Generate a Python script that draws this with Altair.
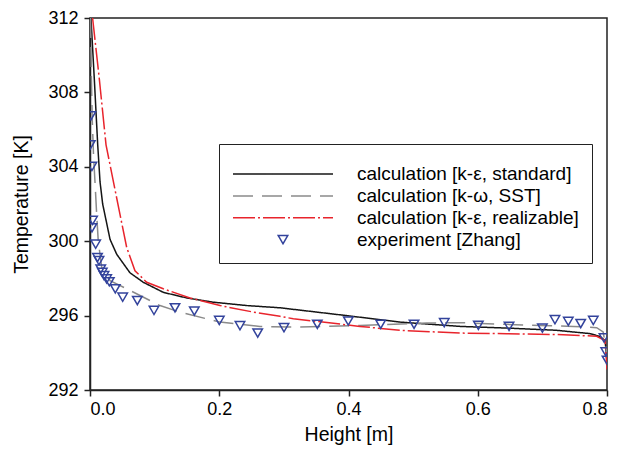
import altair as alt
import pandas as pd

# ---- data ----
series_names = [
    "calculation [k-ε, standard]",
    "calculation [k-ω, SST]",
    "calculation [k-ε, realizable]",
    "experiment [Zhang]",
]

std_x = [0.0015, 0.0067, 0.0119, 0.0155, 0.0196, 0.031, 0.0413, 0.0619, 0.0825, 0.1134,
         0.1496, 0.1908, 0.2425, 0.294, 0.397, 0.48, 0.5725, 0.645, 0.722, 0.774,
         0.789, 0.797, 0.80]
std_y = [312.0, 308.7, 305.2, 303.2, 302.0, 300.1, 299.3, 298.3, 297.79, 297.25,
         296.95, 296.72, 296.54, 296.42, 296.0, 295.65, 295.42, 295.33, 295.21, 295.03,
         294.88, 294.66, 293.6]

sst_x = [0.0008, 0.002, 0.0035, 0.0055, 0.0077, 0.0104, 0.0128, 0.0181, 0.031, 0.0619,
         0.1083, 0.139, 0.201, 0.263, 0.315, 0.418, 0.521, 0.5725, 0.645, 0.696,
         0.748, 0.784, 0.794, 0.80]
sst_y = [312.0, 309.0, 306.5, 304.6, 303.2, 301.4, 300.0, 298.6, 297.88, 297.35,
         296.54, 296.19, 295.65, 295.42, 295.38, 295.47, 295.6, 295.62, 295.53, 295.47,
         295.42, 295.35, 295.12, 294.0]

real_x = [0.004, 0.0144, 0.0248, 0.0402, 0.0464, 0.0568, 0.0696, 0.0877, 0.1134, 0.1547,
          0.2012, 0.2527, 0.294, 0.3146, 0.4178, 0.4797, 0.5725, 0.6448, 0.7222, 0.784,
          0.797, 0.80]
real_y = [312.0, 308.73, 305.18, 302.51, 301.44, 299.66, 298.41, 297.79, 297.44, 296.95,
          296.54, 296.19, 295.96, 295.83, 295.42, 295.21, 295.06, 295.03, 294.98, 294.89,
          294.66, 293.1]

exp_x = [0.0015, 0.0005, 0.003, 0.004, 0.003, 0.0088, 0.0116, 0.0139, 0.0166, 0.019,
         0.0217, 0.0258, 0.0299, 0.0391, 0.0506, 0.0732, 0.099, 0.1315, 0.1614, 0.2001,
         0.2321, 0.2595, 0.3002, 0.3517, 0.3997, 0.4498, 0.5014, 0.5482, 0.6009, 0.6484,
         0.70, 0.7195, 0.7401, 0.7593, 0.7788, 0.7954, 0.798, 0.80]
exp_y = [306.74, 305.18, 304.02, 301.12, 300.72, 299.84, 299.12, 298.95, 298.5, 298.32,
         298.15, 297.97, 297.82, 297.44, 296.99, 296.81, 296.28, 296.42, 296.24, 295.74,
         295.46, 295.06, 295.35, 295.53, 295.71, 295.53, 295.53, 295.62, 295.48, 295.42,
         295.33, 295.78, 295.69, 295.57, 295.74, 294.8, 294.05, 293.6]

x_ticks = [0.0, 0.2, 0.4, 0.6, 0.8]
y_ticks = [292, 296, 300, 304, 308, 312]

# ---- tables ----
rows = []
for name, xs, ys in [(series_names[0], std_x, std_y),
                     (series_names[1], sst_x, sst_y),
                     (series_names[2], real_x, real_y)]:
    for i, (xv, yv) in enumerate(zip(xs, ys)):
        rows.append({"series": name, "x": xv, "y": yv, "i": i})
lines_df = pd.DataFrame(rows)
exp_df = pd.DataFrame({"series": series_names[3], "x": exp_x, "y": exp_y})

colors = ["#151515", "#8a8a8a", "#e8242c", "#33439c"]
dashes = [[1, 0], [20, 9], [22, 3, 2, 3], [1, 0]]
shapes = ["stroke", "stroke", "stroke", "triangle-down"]
sizes = [10000, 10000, 10000, 90]

x_enc = alt.X("x:Q", title="Height [m]",
              scale=alt.Scale(domain=[0, 0.8], nice=False, zero=False),
              axis=alt.Axis(values=x_ticks, format=".1f", titlePadding=7, labelPadding=4))
y_enc = alt.Y("y:Q", title="Temperature [K]",
              scale=alt.Scale(domain=[292, 312], nice=False, zero=False),
              axis=alt.Axis(values=y_ticks, titlePadding=16, labelPadding=6))

legend = alt.Legend(
    orient="none", legendX=129, legendY=126,
    title=" ", titleFontSize=2, titlePadding=7,
    labelFontSize=19, labelFont="Liberation Sans", labelColor="black", labelLimit=400,
    padding=13, strokeColor="#222222", rowPadding=2.9, clipHeight=16,
    symbolOffset=0, labelOffset=23, symbolStrokeWidth=1.5,
    symbolFillColor="transparent",
)

color_enc = alt.Color("series:N", scale=alt.Scale(domain=series_names, range=colors), legend=legend)
dash_enc = alt.StrokeDash("series:N", scale=alt.Scale(domain=series_names, range=dashes), legend=legend)
shape_enc = alt.Shape("series:N", scale=alt.Scale(domain=series_names, range=shapes), legend=legend)
size_enc = alt.Size("series:N", scale=alt.Scale(type="ordinal", domain=series_names, range=sizes),
                    legend=legend)

lines = alt.Chart(lines_df).mark_line(strokeWidth=1.5, clip=True).encode(
    x=x_enc, y=y_enc, color=color_enc, strokeDash=dash_enc, order="i:Q"
)
points = alt.Chart(exp_df).mark_point(
    filled=False, strokeWidth=1.5, opacity=1, clip=True
).encode(x=x_enc, y=y_enc, color=color_enc, shape=shape_enc, size=size_enc)

chart = alt.layer(lines, points).properties(
    width=517, height=372,
    padding={"left": 82, "top": 10, "right": 5, "bottom": 60},
    autosize="none",
).configure(font="Liberation Sans").configure_axis(
    grid=False, domainColor="#222222", domainWidth=1.5, tickColor="#222222",
    tickWidth=1.5, tickSize=6, labelFontSize=18, labelColor="black",
    titleFontSize=19.5, titleFontWeight="normal", titleColor="black",
    labelFont="Liberation Sans", titleFont="Liberation Sans",
).configure_view(stroke="#222222", strokeWidth=1.5)

chart.save("out.html", embed_options={"renderer": "svg", "actions": False})
